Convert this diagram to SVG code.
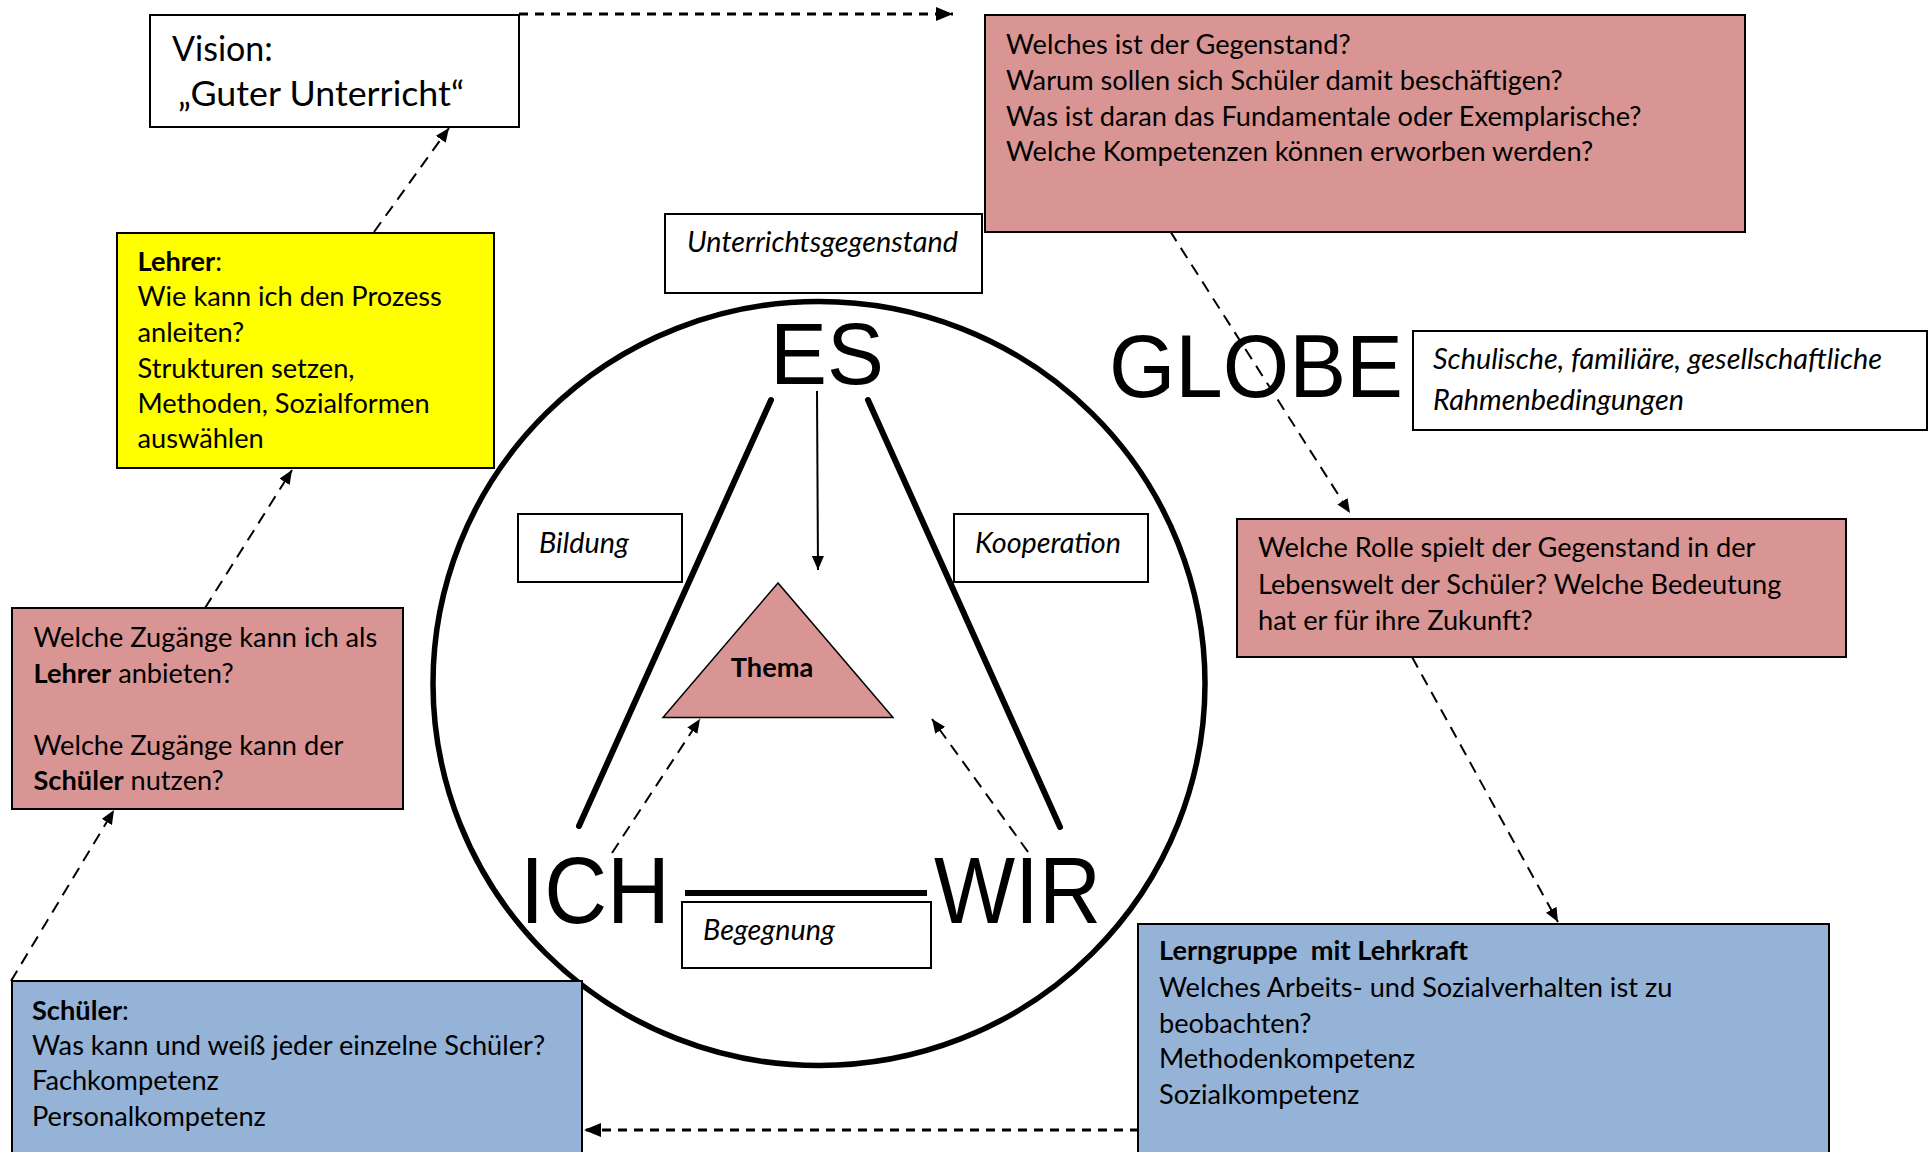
<svg xmlns="http://www.w3.org/2000/svg" width="1930" height="1152" viewBox="0 0 1930 1152">
<defs>
<style>
.box{stroke:#000;stroke-width:2}
.white{fill:#fff}
.red{fill:#D99594}
.blue{fill:#95B3D7}
.yellow{fill:#FFFF00}
.t{font-family:Lato,"Open Sans","Liberation Sans",sans-serif;font-size:27.2px;fill:#000}
.it{font-style:italic;font-size:28.8px}
.b{font-weight:bold}
.big{font-family:"Liberation Sans",Arial,sans-serif;fill:#000}
.dash{fill:none;stroke:#000;stroke-width:2;stroke-dasharray:12 8}
.dashh{fill:none;stroke:#000;stroke-width:3;stroke-dasharray:9 7}
.thick{fill:none;stroke:#000;stroke-width:6;stroke-linecap:round}
</style>
<marker id="ah" markerUnits="userSpaceOnUse" viewBox="0 0 14 12" refX="14" refY="6" markerWidth="14" markerHeight="12" orient="auto">
<path d="M0,0 L14,6 L0,12 Z" fill="#000"/>
</marker>
<marker id="ahb" markerUnits="userSpaceOnUse" viewBox="0 0 17 14" refX="17" refY="7" markerWidth="17" markerHeight="14" orient="auto">
<path d="M0,0 L17,7 L0,14 Z" fill="#000"/>
</marker>
</defs>
<rect width="1930" height="1152" fill="#fff"/>

<g id="circle-globe">
<ellipse cx="819" cy="683.5" rx="386" ry="382" fill="none" stroke="#000" stroke-width="5.5"/>
</g>

<g id="connectors">
<line class="dashh" x1="519" y1="14" x2="953" y2="14" marker-end="url(#ahb)"/>
<line class="dash" x1="374" y1="232" x2="449" y2="128" marker-end="url(#ah)"/>
<line class="dash" x1="205" y1="608" x2="292" y2="470" marker-end="url(#ah)"/>
<line class="dash" x1="11" y1="981" x2="114" y2="810" marker-end="url(#ah)"/>
<line class="dash" x1="1170" y1="231" x2="1350" y2="513" marker-end="url(#ah)"/>
<line class="dash" x1="1412" y1="657" x2="1558" y2="922" marker-end="url(#ah)"/>
<line class="dashh" x1="1139" y1="1130" x2="584" y2="1130" marker-end="url(#ahb)"/>
<line class="dash" x1="612" y1="853" x2="700" y2="719" marker-end="url(#ah)"/>
<line class="dash" x1="1028" y1="852" x2="932" y2="719" marker-end="url(#ah)"/>
<line x1="817" y1="391" x2="818" y2="570" stroke="#000" stroke-width="2" marker-end="url(#ah)"/>
<line class="thick" x1="771" y1="400" x2="579" y2="826"/>
<line class="thick" x1="868" y1="400" x2="1060" y2="827"/>
<line x1="685" y1="893" x2="927" y2="893" stroke="#000" stroke-width="6"/>
</g>

<g id="vision">
<rect class="box white" x="150" y="15" width="369" height="112"/>
<text class="t" style="font-size:34px" x="172" y="61">Vision:</text>
<text class="t" style="font-size:34px" x="178" y="106" textLength="286" lengthAdjust="spacingAndGlyphs">„Guter Unterricht“</text>
</g>

<g id="gegenstand-fragen">
<rect class="box red" x="985" y="15" width="760" height="217"/>
<text class="t" x="1006" y="54">Welches ist der Gegenstand?</text>
<text class="t" x="1006" y="90">Warum sollen sich Schüler damit beschäftigen?</text>
<text class="t" x="1006" y="126">Was ist daran das Fundamentale oder Exemplarische?</text>
<text class="t" x="1006" y="161">Welche Kompetenzen können erworben werden?</text>
</g>

<g id="lehrer">
<rect class="box yellow" x="117" y="233" width="377" height="235"/>
<text class="t" x="137.5" y="271"><tspan class="b">Lehrer</tspan>:</text>
<text class="t" x="137.5" y="306">Wie kann ich den Prozess</text>
<text class="t" x="137.5" y="342">anleiten?</text>
<text class="t" x="137.5" y="378">Strukturen setzen,</text>
<text class="t" x="137.5" y="413">Methoden, Sozialformen</text>
<text class="t" x="137.5" y="448">auswählen</text>
</g>

<g id="unterrichtsgegenstand">
<rect class="box white" x="665" y="214" width="317" height="79"/>
<text class="t it" x="687" y="252">Unterrichtsgegenstand</text>
</g>

<g id="globe-label">
<text class="big" x="1109" y="397" font-size="89" textLength="294" lengthAdjust="spacingAndGlyphs">GLOBE</text>
</g>

<g id="rahmenbedingungen">
<rect class="box white" x="1413" y="331" width="514" height="99"/>
<text class="t it" x="1433" y="369">Schulische, familiäre, gesellschaftliche</text>
<text class="t it" x="1433" y="410">Rahmenbedingungen</text>
</g>

<g id="lebenswelt">
<rect class="box red" x="1237" y="519" width="609" height="138"/>
<text class="t" x="1258" y="557">Welche Rolle spielt der Gegenstand in der</text>
<text class="t" x="1258" y="594">Lebenswelt der Schüler? Welche Bedeutung</text>
<text class="t" x="1258" y="630">hat er für ihre Zukunft?</text>
</g>

<g id="zugaenge">
<rect class="box red" x="12" y="608" width="391" height="201"/>
<text class="t" x="33.5" y="647">Welche Zugänge kann ich als</text>
<text class="t" x="33.5" y="683"><tspan class="b">Lehrer</tspan> anbieten?</text>
<text class="t" x="33.5" y="755">Welche Zugänge kann der</text>
<text class="t" x="33.5" y="790"><tspan class="b">Schüler</tspan> nutzen?</text>
</g>

<g id="schueler">
<rect class="box blue" x="12" y="981" width="570" height="180"/>
<text class="t" x="32" y="1020"><tspan class="b">Schüler</tspan>:</text>
<text class="t" x="32" y="1055">Was kann und weiß jeder einzelne Schüler?</text>
<text class="t" x="32" y="1090">Fachkompetenz</text>
<text class="t" x="32" y="1126">Personalkompetenz</text>
</g>

<g id="lerngruppe">
<rect class="box blue" x="1138" y="924" width="691" height="240"/>
<text class="t b" x="1159" y="960" xml:space="preserve">Lerngruppe  mit Lehrkraft</text>
<text class="t" x="1159" y="996.5">Welches Arbeits- und Sozialverhalten ist zu</text>
<text class="t" x="1159" y="1033">beobachten?</text>
<text class="t" x="1159" y="1068">Methodenkompetenz</text>
<text class="t" x="1159" y="1104">Sozialkompetenz</text>
</g>

<g id="es">
<text class="big" x="770" y="384" font-size="88" textLength="114" lengthAdjust="spacingAndGlyphs">ES</text>
</g>

<g id="ich">
<text class="big" x="520" y="923" font-size="95" textLength="150" lengthAdjust="spacingAndGlyphs">ICH</text>
</g>

<g id="wir">
<text class="big" x="934" y="923" font-size="95" textLength="167" lengthAdjust="spacingAndGlyphs">WIR</text>
</g>

<g id="bildung">
<rect class="box white" x="518" y="514" width="164" height="68"/>
<text class="t it" x="539" y="553">Bildung</text>
</g>

<g id="kooperation">
<rect class="box white" x="954" y="514" width="194" height="68"/>
<text class="t it" x="975" y="553">Kooperation</text>
</g>

<g id="begegnung">
<rect class="box white" x="682" y="902" width="249" height="66"/>
<text class="t it" x="703" y="940">Begegnung</text>
</g>

<g id="thema">
<polygon points="778,583 663,717.5 893,717.5" fill="#D99594" stroke="#000" stroke-width="1.5"/>
<text class="t b" x="772" y="677" text-anchor="middle">Thema</text>
</g>
</svg>
